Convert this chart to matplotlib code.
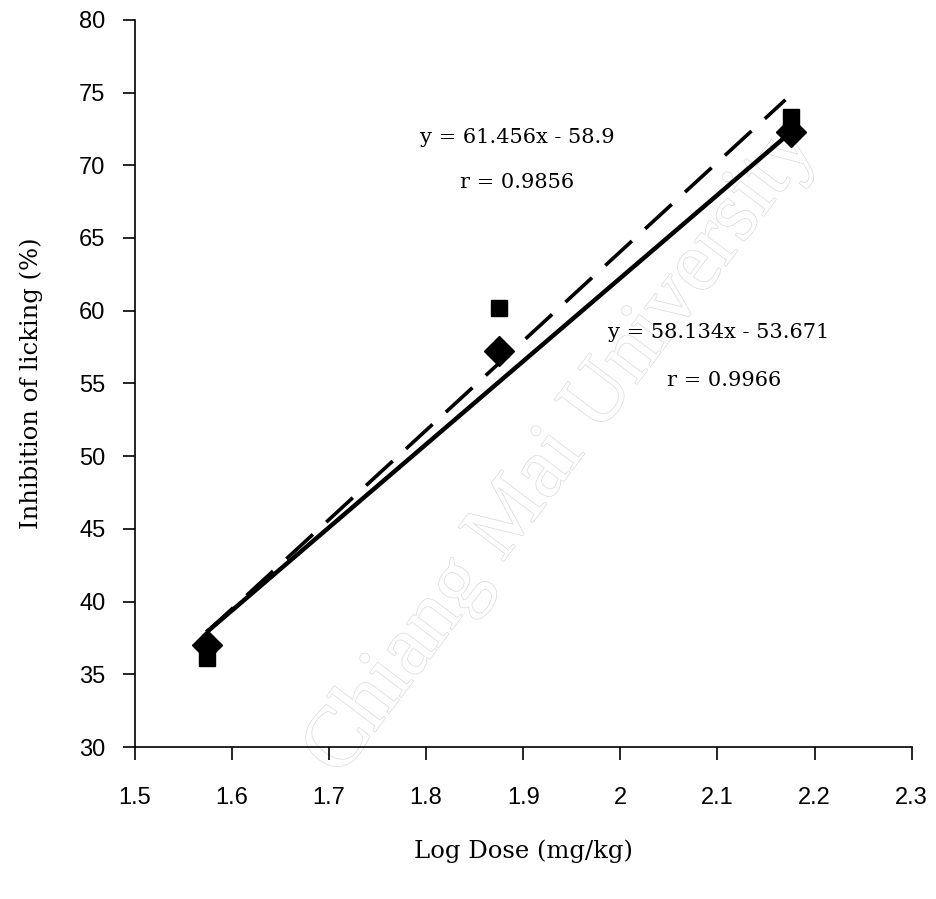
import matplotlib.pyplot as plt
import matplotlib.patheffects as pe

# log dose values and inhibition of licking (%)
log_dose = [1.574, 1.875, 2.176]
inhib_a = [37.0, 57.2, 72.3]   # diamonds
inhib_b = [36.1, 60.2, 73.3]   # squares

# trend line endpoints
solid_x = [1.574, 2.176]
solid_y = [37.9, 72.3]
dash_x = [1.574, 2.17]
dash_y = [37.9, 74.5]

x_ticks = [1.5, 1.6, 1.7, 1.8, 1.9, 2.0, 2.1, 2.2, 2.3]
x_labels = ['1.5', '1.6', '1.7', '1.8', '1.9', '2', '2.1', '2.2', '2.3']
y_ticks = [30, 35, 40, 45, 50, 55, 60, 65, 70, 75, 80]

fig = plt.figure(figsize=(9.36, 8.99), dpi=100)
ax = fig.add_axes([0.144, 0.169, 0.830, 0.809])

# faint outlined watermark, drawn below the axes
wm = fig.text(0.60, 0.50, 'Chiang Mai University', fontsize=62, family='Liberation Serif',
              rotation=53, ha='center', va='center', color='white', zorder=-1)
wm.set_path_effects([pe.Stroke(linewidth=1.1, foreground='#dcdcdc'), pe.Normal()])

ax.plot(solid_x, solid_y, color='black', lw=3.2, solid_capstyle='butt', zorder=3)
ax.plot(dash_x, dash_y, color='black', lw=2.6, dashes=(10, 5), zorder=3)
ax.plot(log_dose, inhib_b, 's', color='black', ms=11, zorder=4)
ax.plot(log_dose, inhib_a, 'D', color='black', ms=15, zorder=5)

serif = 'DejaVu Serif'
ax.text(1.7935, 71.9, 'y = 61.456x - 58.9', fontsize=15, family=serif, va='center')
ax.text(1.835, 68.8, 'r = 0.9856', fontsize=15, family=serif, va='center')
ax.text(1.987, 58.5, 'y = 58.134x - 53.671', fontsize=15, family=serif, va='center')
ax.text(2.048, 55.2, 'r = 0.9966', fontsize=15, family=serif, va='center')

ax.set_xlim(1.5, 2.3)
ax.set_ylim(30, 80)
ax.set_xticks(x_ticks)
ax.set_xticklabels(x_labels)
ax.set_yticks(y_ticks)
ax.tick_params(direction='out', length=9, width=1.2, labelsize=17, pad=12)
ax.tick_params(axis='x', pad=20)
for lab in ax.get_xticklabels() + ax.get_yticklabels():
    lab.set_family('Liberation Sans')

ax.spines['top'].set_visible(False)
ax.spines['right'].set_visible(False)
ax.spines['left'].set_linewidth(1.2)
ax.spines['bottom'].set_linewidth(1.2)
ax.patch.set_alpha(0)

ax.set_xlabel('Log Dose (mg/kg)', fontsize=17.5, family=serif, labelpad=22)
ax.set_ylabel('Inhibition of licking (%)', fontsize=17.5, family=serif, labelpad=26)

fig.savefig('out.png', dpi=100)
